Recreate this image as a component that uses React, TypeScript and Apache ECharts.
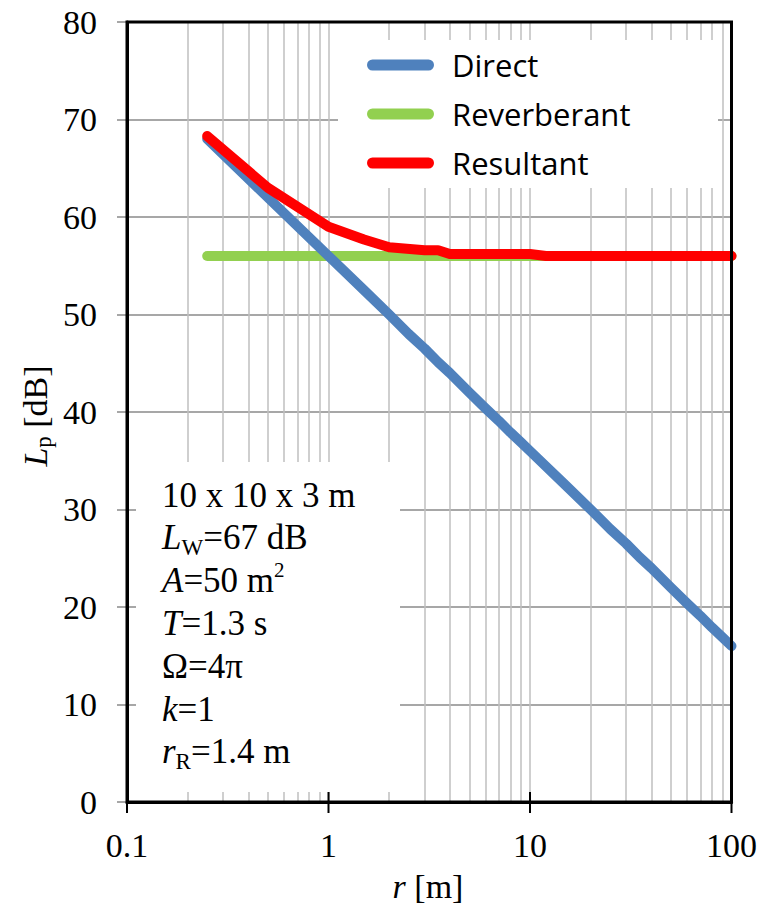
import React, { useEffect, useRef } from "react";
import * as echarts from "echarts";

// distances r [m] and sound pressure levels Lp [dB]
const rDirect = [0.25, 0.5, 1, 1.5, 2, 2.5, 3, 3.5, 4, 5, 6, 7, 8, 9, 10, 15, 20, 25, 30, 35, 40, 50, 60, 70, 80, 90, 100];
const lpDirect = [68.0, 62.0, 56.0, 52.5, 50.0, 48.0, 46.5, 45.1, 44.0, 42.0, 40.4, 39.1, 37.9, 36.9, 36.0, 32.5, 30.0, 28.0, 26.5, 25.1, 24.0, 22.0, 20.4, 19.1, 17.9, 16.9, 16.0];
const rReverb = [0.25, 100];
const lpReverb = [56.0, 56.0];
const rResult = [0.25, 0.5, 1, 1.5, 2, 3, 3.5, 4, 10, 12, 100];
const lpResult = [68.3, 63.0, 59.0, 57.7, 56.9, 56.6, 56.6, 56.2, 56.2, 56.0, 56.0];

const seriesNames = ["Direct", "Reverberant", "Resultant"];
const seriesColors = ["#4f81bd", "#92d050", "#ff0000"];

// axis extents, major x ticks and minor vertical grid positions
const xMin = 0.1;
const xMax = 100;
const yMin = 0;
const yMax = 80;
const yStep = 10;
const xMajor = [0.1, 1, 10, 100];
const gridR = [0.2, 0.3, 0.4, 0.5, 0.6, 0.7, 0.8, 0.9, 1, 2, 3, 4, 5, 6, 7, 8, 9, 10, 20, 30, 40, 50, 60, 70, 80, 90];

const infoLines = [
  "{n|10 x 10 x 3 m}",
  "{i|L}{sub|W}{n|=67 dB}",
  "{i|A}{n|=50 m}{sup|2}",
  "{i|T}{n|=1.3 s}",
  "{n|Ω=4π}",
  "{i|k}{n|=1}",
  "{i|r}{sub|R}{n|=1.4 m}",
];

const serif = "'Liberation Serif', 'Times New Roman', serif";

const richText = {
  n: { fontFamily: serif, fontSize: 35, lineHeight: 42, fill: "#000" },
  i: { fontFamily: serif, fontSize: 35, lineHeight: 42, fontStyle: "italic", fill: "#000" },
  sub: { fontFamily: serif, fontSize: 23, lineHeight: 24, verticalAlign: "bottom", fill: "#000" },
  sup: { fontFamily: serif, fontSize: 21, lineHeight: 34, verticalAlign: "top", fill: "#000" },
};

const richAxis = {
  n: { fontFamily: serif, fontSize: 34, lineHeight: 40, fill: "#000" },
  i: { fontFamily: serif, fontSize: 34, lineHeight: 40, fontStyle: "italic", fill: "#000" },
  sub: { fontFamily: serif, fontSize: 23, lineHeight: 24, verticalAlign: "bottom", fill: "#000" },
};

const pair = (xs: number[], ys: number[]) => xs.map((x, i) => [x, ys[i]]);

export default function App() {
  const ref = useRef<HTMLDivElement>(null);

  useEffect(() => {
    if (!ref.current) return;
    const chart = echarts.init(ref.current, undefined, { renderer: "svg" });

    const lineSeries = (name: string, data: number[][], color: string, extra: any = {}) => ({
      name,
      type: "line",
      data,
      showSymbol: false,
      symbol: "none",
      lineStyle: { color, width: 10, cap: "round", join: "round" },
      itemStyle: { color },
      z: 3,
      silent: true,
      clip: false,
      ...extra,
    });

    // frame (plot border) and the black major ticks crossing the x axis
    const frameSeries = {
      type: "custom",
      silent: true,
      z: 8,
      clip: false,
      data: [[xMin, yMin]],
      renderItem: (_params: any, api: any) => {
        const p0 = api.coord([xMin, yMax]);
        const p1 = api.coord([xMax, yMin]);
        const children: any[] = [
          {
            type: "rect",
            shape: { x: p0[0], y: p0[1], width: p1[0] - p0[0], height: p1[1] - p0[1] },
            style: { fill: "none", stroke: "#000", lineWidth: 3 },
          },
        ];
        xMajor.forEach((v) => {
          const p = api.coord([v, yMin]);
          children.push({
            type: "line",
            shape: { x1: p[0], y1: p[1] - 10, x2: p[0], y2: p[1] + 11 },
            style: { stroke: "#000", lineWidth: 2 },
          });
        });
        return { type: "group", children };
      },
    };

    const option: any = {
      animation: false,
      grid: { left: 127, right: 27, top: 22, bottom: 106 },
      legend: {
        data: seriesNames,
        orient: "vertical",
        left: 367,
        top: 46,
        padding: 0,
        itemWidth: 67,
        itemHeight: 11,
        itemGap: 11,
        icon: "path://M5.5,0 L61.5,0 A5.5,5.5 0 0 1 61.5,11 L5.5,11 A5.5,5.5 0 0 1 5.5,0 Z",
        textStyle: {
          fontFamily: "'Open Sans', 'Noto Sans', sans-serif",
          fontSize: 31,
          lineHeight: 38,
          color: "#000",
          padding: [0, 0, 0, 13],
        },
        z: 6,
        selectedMode: false,
      },
      xAxis: {
        type: "log",
        logBase: 10,
        min: xMin,
        max: xMax,
        position: "bottom",
        splitLine: { show: false },
        minorTick: { show: false },
        minorSplitLine: { show: false },
        axisLine: { show: true, onZero: false, lineStyle: { color: "#000", width: 3 } },
        axisTick: { show: false },
        axisLabel: {
          show: true,
          margin: 26,
          fontFamily: serif,
          fontSize: 34,
          color: "#000",
          formatter: (v: number) => String(v),
        },
      },
      yAxis: {
        type: "value",
        min: yMin,
        max: yMax,
        interval: yStep,
        position: "left",
        axisLine: { show: true, onZero: false, lineStyle: { color: "#000", width: 3 } },
        axisTick: { show: true, inside: false, length: 10, lineStyle: { color: "#8a8a8a", width: 1.5 } },
        axisLabel: { show: true, margin: 30, fontFamily: serif, fontSize: 34, color: "#000" },
        splitLine: { show: true, lineStyle: { color: "#8a8a8a", width: 1.5 } },
      },
      series: [
        lineSeries(seriesNames[1], pair(rReverb, lpReverb), seriesColors[1], {
          markLine: {
            silent: true,
            z: 1,
            symbol: ["none", "none"],
            label: { show: false },
            emphasis: { disabled: true },
            lineStyle: { color: "#bfbfbf", width: 1.5, type: "solid" },
            data: gridR.map((v) => ({ xAxis: v })),
          },
        }),
        lineSeries(seriesNames[0], pair(rDirect, lpDirect), seriesColors[0]),
        lineSeries(seriesNames[2], pair(rResult, lpResult), seriesColors[2]),
        frameSeries,
      ],
      graphic: [
        { type: "rect", z: 2, silent: true, shape: { x: 338, y: 40, width: 380, height: 148 }, style: { fill: "#fff" } },
        { type: "rect", z: 2, silent: true, shape: { x: 136, y: 462, width: 264, height: 330 }, style: { fill: "#fff" } },
        ...infoLines.map((t, i) => ({
          type: "text",
          z: 5,
          silent: true,
          x: 162,
          y: 495 + i * 42.8,
          style: {
            text: t,
            rich: richText,
            fontFamily: serif,
            fontSize: 35,
            fill: "#000",
            align: "left",
            verticalAlign: "middle",
          },
        })),
        {
          type: "text",
          z: 5,
          silent: true,
          x: 35,
          y: 416,
          rotation: Math.PI / 2,
          style: {
            text: "{i|L}{sub|p}{n| [dB]}",
            rich: richAxis,
            fontFamily: serif,
            fontSize: 34,
            fill: "#000",
            align: "center",
            verticalAlign: "middle",
          },
        },
        {
          type: "text",
          z: 5,
          silent: true,
          x: 428,
          y: 886,
          style: {
            text: "{i|r}{n| [m]}",
            rich: richAxis,
            fontFamily: serif,
            fontSize: 34,
            fill: "#000",
            align: "center",
            verticalAlign: "middle",
          },
        },
      ],
    };

    chart.setOption(option);
    return () => chart.dispose();
  }, []);

  return (
    <div
      ref={ref}
      style={{ position: "fixed", left: 0, top: 0, width: 760, height: 908, background: "#fff" }}
    />
  );
}
